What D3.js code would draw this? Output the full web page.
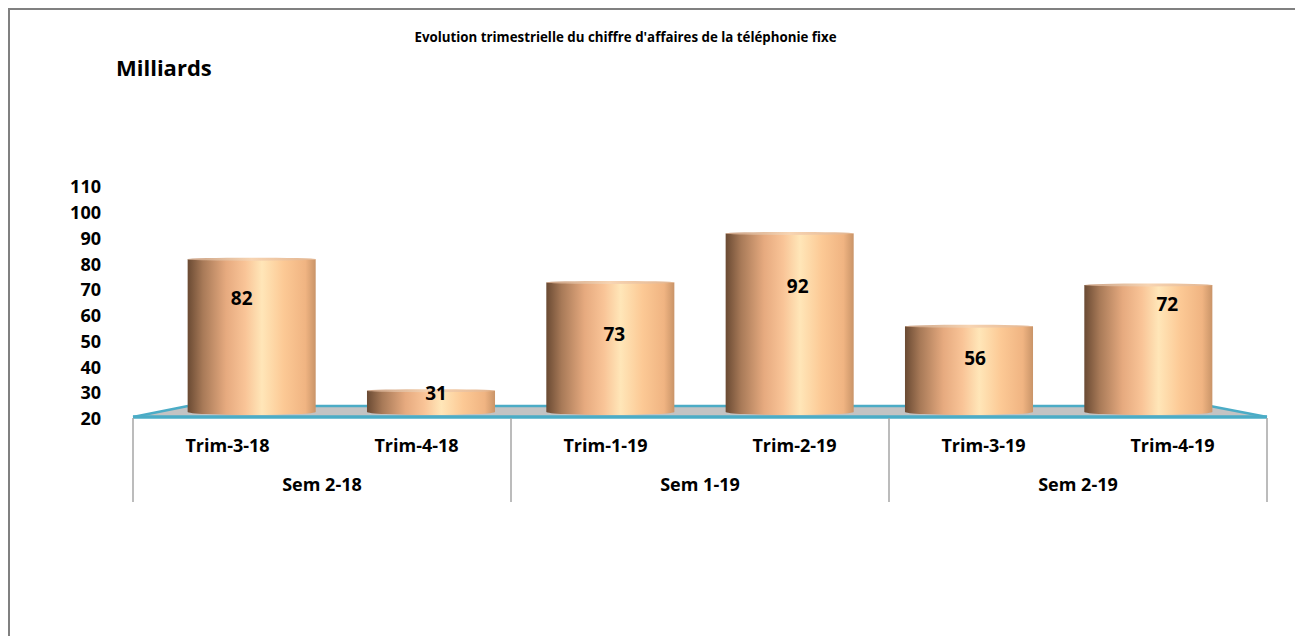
<!DOCTYPE html>
<html><head><meta charset="utf-8">
<script src="https://cdn.jsdelivr.net/npm/d3@7"></script>
<style>html,body{margin:0;padding:0;background:#fff;}svg{display:block;font-family:"Open Sans","Noto Sans",sans-serif;}</style>
</head><body><svg id="c" width="1295" height="636"></svg>
<script>
const quarters = ["Trim-3-18","Trim-4-18","Trim-1-19","Trim-2-19","Trim-3-19","Trim-4-19"];
const semesters = ["Sem 2-18","Sem 2-18","Sem 1-19","Sem 1-19","Sem 2-19","Sem 2-19"];
const values = [82,31,73,92,56,72];
const yTicks = [20,30,40,50,60,70,80,90,100,110];
const title = "Evolution trimestrielle du chiffre d'affaires de la téléphonie fixe";
const unitLabel = "Milliards";
// manual label nudges (px) as placed in the original
const labelNudge = [[-10,39],[5,3],[4,52],[8,53],[6,32],[19,19]];

const svg = d3.select("#c");
svg.append("rect").attr("x",9).attr("y",9).attr("width",1400).attr("height",700)
  .attr("fill","none").attr("stroke","#808080").attr("stroke-width",2);

const y = d3.scaleLinear().domain([20,110]).range([419,187]);
const xFront = d3.scaleBand().domain(d3.range(values.length)).range([133,1267]);
const xBar = d3.scaleBand().domain(d3.range(values.length)).range([162,1238]).paddingInner(0.286).paddingOuter(0.143);
const floorBack = 406, floorFront = 417, barBase = 412;

const defs = svg.append("defs");
const g = defs.append("linearGradient").attr("id","cyl").attr("x1","0").attr("x2","1").attr("y1","0").attr("y2","0");
[[0,"#6a4a33"],[0.12,"#a87a58"],[0.3,"#e6aa7f"],[0.45,"#f9c497"],[0.58,"#ffe6b8"],[0.75,"#fcc995"],[0.92,"#f0b482"],[1,"#c99468"]]
  .forEach(([o,c])=>g.append("stop").attr("offset",o).attr("stop-color",c));
const gt = defs.append("linearGradient").attr("id","cap").attr("x1","0").attr("x2","1");
[[0,"#c9a084"],[0.5,"#f7d4b2"],[1,"#e2b48f"]].forEach(([o,c])=>gt.append("stop").attr("offset",o).attr("stop-color",c));

// floor
svg.append("polygon")
  .attr("points",[[188,floorBack],[1210,floorBack],[1267,floorFront],[133,floorFront]].map(p=>p.join(",")).join(" "))
  .attr("fill","#c3c3c3");
svg.append("line").attr("x1",188).attr("x2",1210).attr("y1",floorBack).attr("y2",floorBack).attr("stroke","#4bacc6").attr("stroke-width",2.5);
svg.append("line").attr("x1",133).attr("x2",188).attr("y1",floorFront).attr("y2",floorBack).attr("stroke","#4bacc6").attr("stroke-width",2.5);
svg.append("line").attr("x1",1210).attr("x2",1267).attr("y1",floorBack).attr("y2",floorFront).attr("stroke","#4bacc6").attr("stroke-width",2.5);
svg.append("line").attr("x1",133).attr("x2",1267).attr("y1",floorFront).attr("y2",floorFront).attr("stroke","#4bacc6").attr("stroke-width",3.5);

// cylinders
const bw = xBar.bandwidth(), ry = 3;
const bars = svg.append("g").selectAll("g").data(values).join("g");
bars.append("path").attr("fill","url(#cyl)")
  .attr("d",(d,i)=>{const x0=xBar(i), x1=x0+bw, yt=y(d), yb=barBase;
    return `M${x0},${yt} L${x0},${yb} A${bw/2},${ry} 0 0 0 ${x1},${yb} L${x1},${yt} Z`;});
bars.append("ellipse").attr("cx",(d,i)=>xBar(i)+bw/2).attr("cy",d=>y(d)).attr("rx",bw/2).attr("ry",1.5)
  .attr("fill","url(#cap)");

// data labels
svg.append("g").selectAll("text").data(values).join("text")
  .attr("x",(d,i)=>xBar(i)+bw/2+labelNudge[i][0])
  .attr("y",(d,i)=>y(d)+labelNudge[i][1])
  .attr("dy","0.35em").attr("text-anchor","middle")
  .attr("font-weight","bold").attr("font-size",19).attr("fill","#000").text(d=>d);

// y axis
const yAxis = d3.axisLeft(y).tickValues(yTicks).tickSize(0).tickPadding(0);
const ya = svg.append("g").attr("transform","translate(101,0)").call(yAxis);
ya.select(".domain").remove();
ya.selectAll("text").attr("font-size",18).attr("font-weight","bold").attr("fill","#000")
  .attr("font-family","'Open Sans',sans-serif");

// category axis lines
const sepX = [0,2,4,6].map(i=> i<6 ? xFront(i) : xFront.range()[1]);
svg.append("g").selectAll("line").data(sepX).join("line")
  .attr("x1",d=>d).attr("x2",d=>d).attr("y1",floorFront+1).attr("y2",502)
  .attr("stroke","#a6a6a6").attr("stroke-width",1.5);

svg.append("g").selectAll("text").data(quarters).join("text")
  .attr("x",(d,i)=>xFront(i)+xFront.bandwidth()/2).attr("y",446).attr("dy","0.35em")
  .attr("text-anchor","middle").attr("font-weight","bold").attr("font-size",18).text(d=>d);

const semNames = Array.from(new Set(semesters));
svg.append("g").selectAll("text").data(semNames).join("text")
  .attr("x",s=>{const idx=semesters.map((v,i)=>v===s?i:-1).filter(i=>i>=0);
     return (xFront(idx[0])+xFront(idx[idx.length-1])+xFront.bandwidth())/2;})
  .attr("y",485).attr("dy","0.35em").attr("text-anchor","middle")
  .attr("font-weight","bold").attr("font-size",18).text(d=>d);

// titles
svg.append("text").attr("x",625.5).attr("y",37).attr("dy","0.35em").attr("text-anchor","middle")
  .attr("font-weight","bold").attr("font-size",13.3).text(title);
svg.append("text").attr("x",116).attr("y",68).attr("dy","0.35em")
  .attr("font-weight","bold").attr("font-size",22).text(unitLabel);
</script></body></html>
